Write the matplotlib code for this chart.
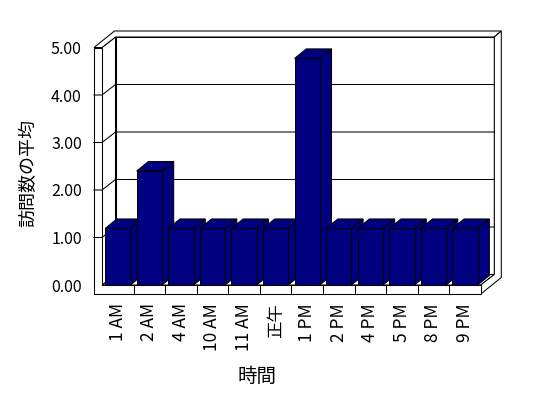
import matplotlib
matplotlib.use("Agg")
import matplotlib.pyplot as plt
from matplotlib.patches import Polygon

plt.rcParams["font.family"] = ["Noto Sans CJK JP", "DejaVu Sans"]

HOURS = ["1 AM", "2 AM", "4 AM", "10 AM", "11 AM", "正午", "1 PM", "2 PM", "4 PM", "5 PM", "8 PM", "9 PM"]
AVG_VISITS = [1.19, 2.40, 1.19, 1.19, 1.19, 1.19, 4.77, 1.19, 1.19, 1.19, 1.19, 1.19]
Y_TICKS = [0, 1, 2, 3, 4, 5]

W, H = 548, 398
NAVY = "#000080"
IN, OUT = (13.5, 10.5), (20.5, 16.5)   # depth of inner / outer wall faces, px
WALL, FLOOR = 8, 9                    # wall thickness, px
BAR_D = (11.7, 9.5)                   # bar depth, px
LW = 0.75

fig = plt.figure(figsize=(W / 100, H / 100), dpi=100)
ax = fig.add_axes([102 / W, (H - 285) / H, 378.8 / W, 237.5 / H])
ax.set_xlim(-0.5, len(HOURS) - 0.5); ax.set_ylim(0, Y_TICKS[-1])
for s in ax.spines.values(): s.set_visible(False)
ax.patch.set_visible(False)


def off(x, y, dx=0, dy=0):
    # shift a data point by a depth offset given in pixels
    px, py = ax.transData.transform((x, y))
    return tuple(ax.transData.inverted().transform((px + dx, py + dy)))


def poly(pts, fc="white", z=1):
    ax.add_patch(Polygon(pts, closed=True, facecolor=fc, edgecolor="black", lw=LW, zorder=z, clip_on=False))


x0, x1, top = -0.5, len(HOURS) - 0.5, Y_TICKS[-1]
poly([off(x0, 0, *IN), off(x1, 0, *IN), off(x1, top, *IN), off(x0, top, *IN)])
poly([off(x0, 0), off(x1, 0), off(x1, 0, *IN), off(x0, 0, *IN)])
poly([off(x0, 0), off(x0, 0, *IN), off(x0, top, *IN), off(x0, top)])
poly([off(x0, top, -WALL, 0), off(x0, top), off(x0, top, *IN), off(x1, top, *IN),
      off(x1, top, *OUT), off(x0, top, OUT[0] - WALL, OUT[1])])
poly([off(x1, 0), off(x1, 0, 0, -FLOOR), off(x1, 0, OUT[0], OUT[1] - FLOOR), off(x1, top, *OUT),
      off(x1, top, *IN), off(x1, 0, *IN)])
poly([off(x0, 0, -WALL, -FLOOR), off(x1, 0, 0, -FLOOR), off(x1, 0), off(x0, 0), off(x0, top), off(x0, top, -WALL, 0)])

for v in Y_TICKS[1:-1]:
    pts = [off(x0, v, -WALL, 0), off(x0, v), off(x0, v, *IN), off(x1, v, *IN)]
    ax.plot([p[0] for p in pts], [p[1] for p in pts], color="black", lw=LW, zorder=2, clip_on=False)
for k in range(1, len(HOURS)):
    a, b = off(k - 0.5, 0), off(k - 0.5, 0, 0, -FLOOR)
    ax.plot([a[0], b[0]], [a[1], b[1]], color="black", lw=LW, zorder=2, clip_on=False)

for i, v in enumerate(AVG_VISITS):
    l, r, z = i - 0.4, i + 0.4, 10 + i
    poly([off(l, v), off(r, v), off(r, v, *BAR_D), off(l, v, *BAR_D)], NAVY, z)
    poly([off(r, 0), off(r, 0, *BAR_D), off(r, v, *BAR_D), off(r, v)], NAVY, z)
    ax.bar(i, v, width=0.8, color=NAVY, edgecolor="black", lw=LW, zorder=z)

ax.set_xticks(range(len(HOURS)), HOURS, rotation=90)
ax.set_yticks(Y_TICKS, [f"{v:.2f}" for v in Y_TICKS])
ax.tick_params(axis="x", length=0, pad=13, labelsize=12.5)
ax.tick_params(axis="y", length=0, pad=14.5, labelsize=11.5)
fig.text(28 / W, 1 - 173 / H, "訪問数の平均", rotation=90, ha="center", va="center", fontsize=13)
fig.text(257 / W, 1 - 376 / H, "時間", ha="center", va="center", fontsize=14)

fig.savefig("out.png", dpi=100)
